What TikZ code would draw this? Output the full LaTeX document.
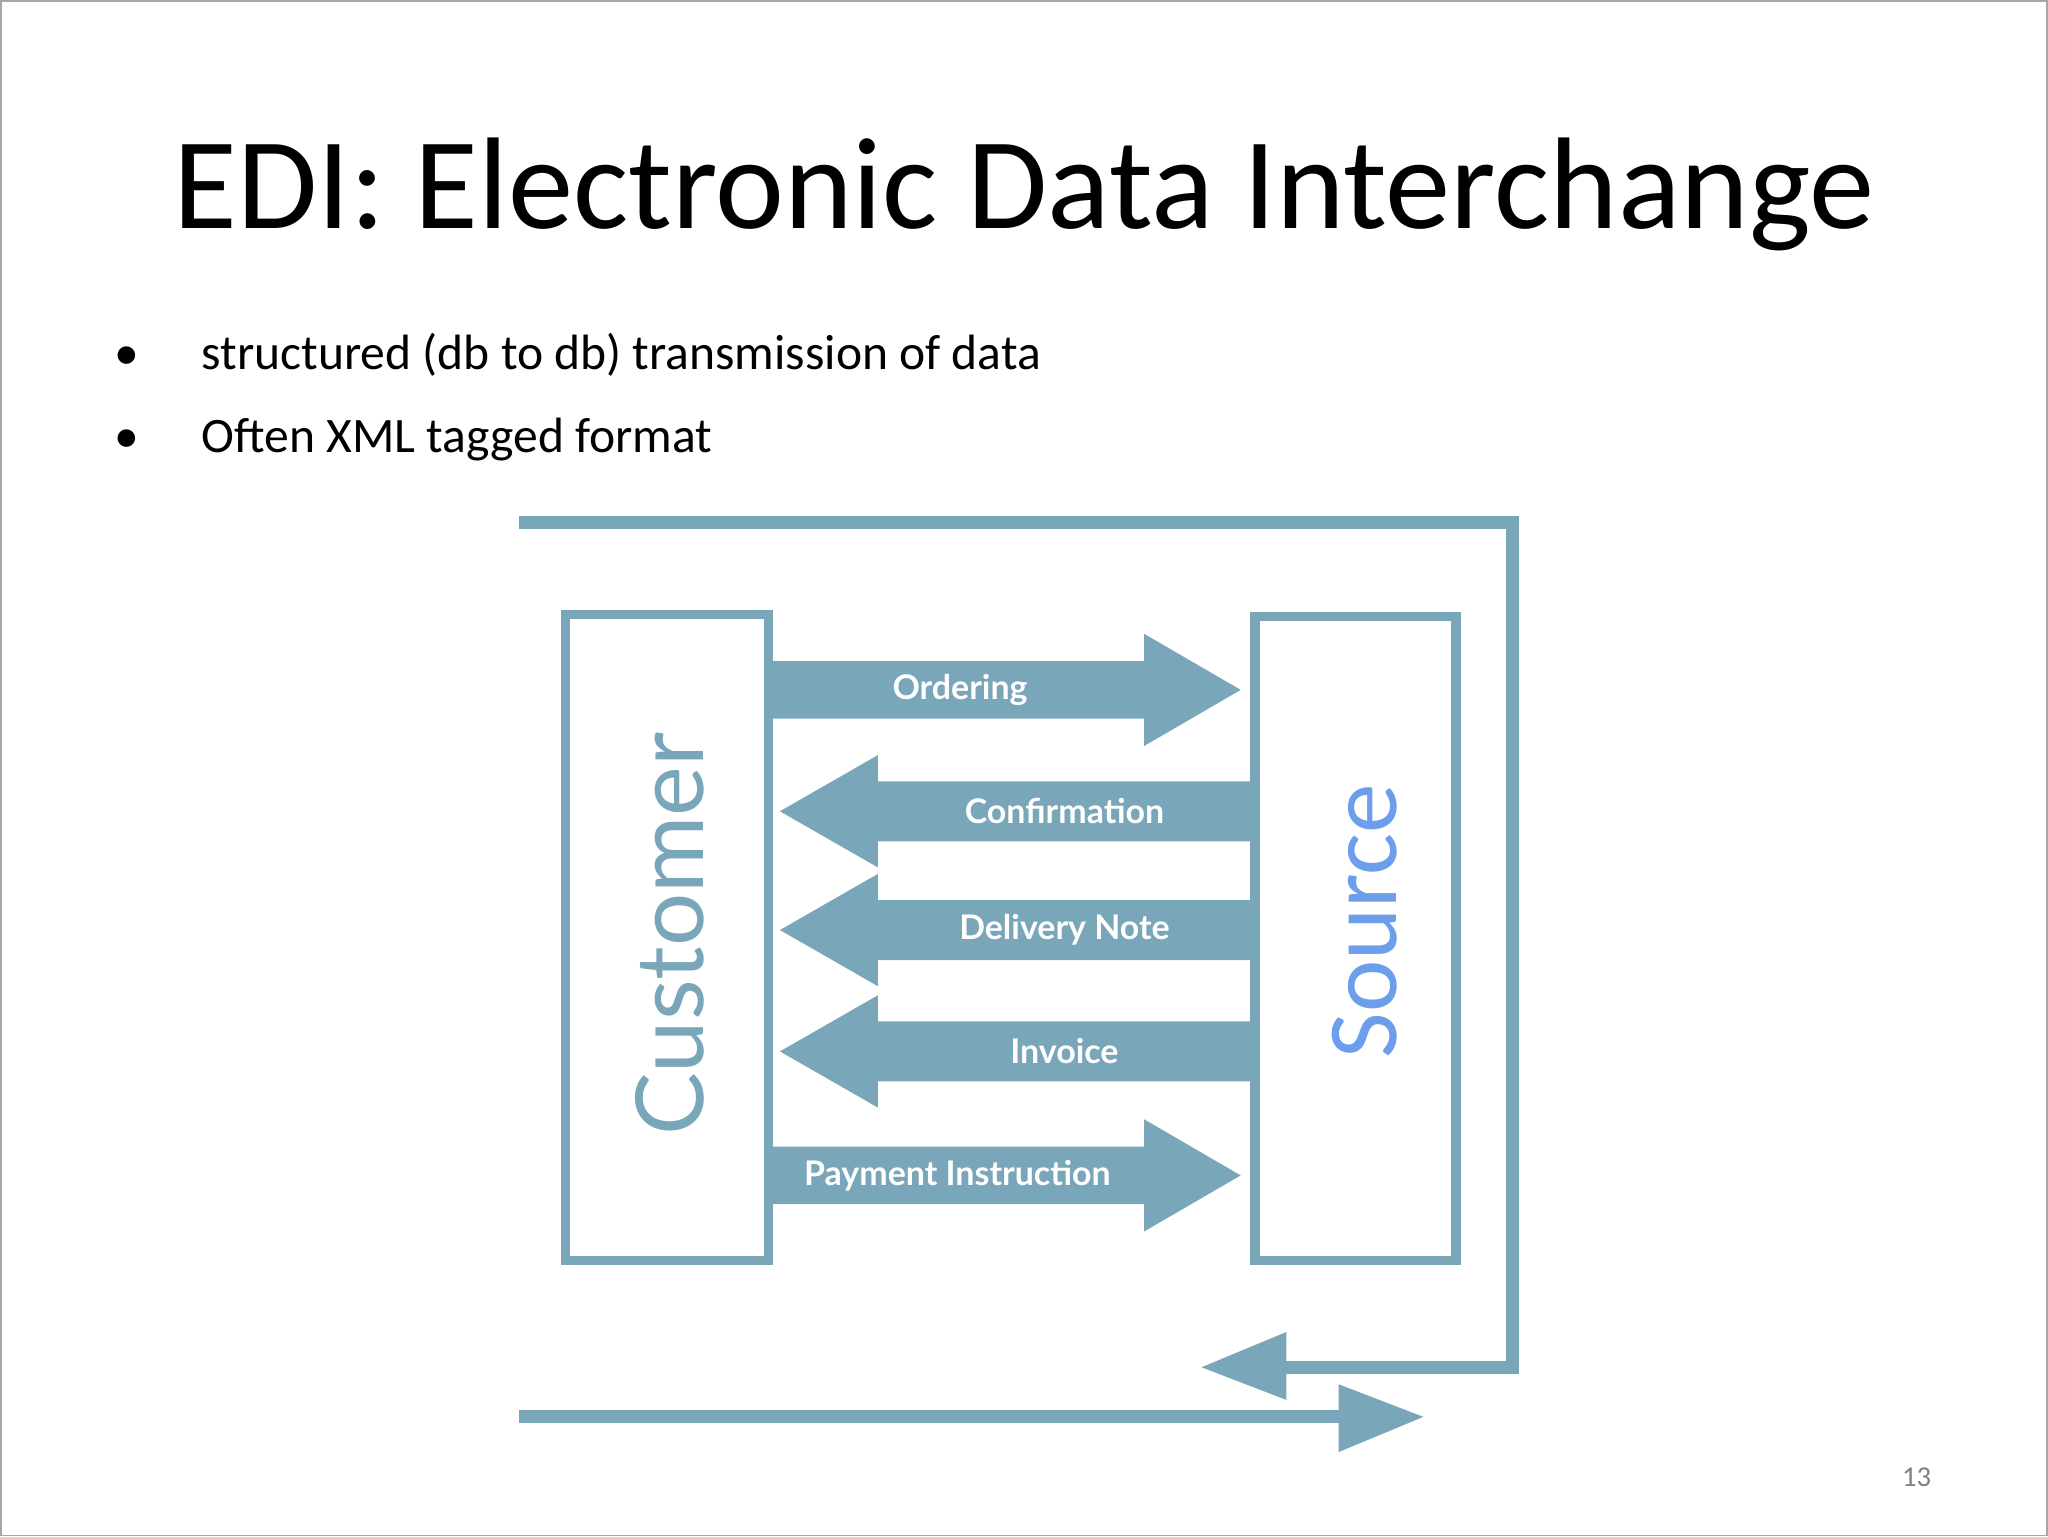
\documentclass[tikz,border=0pt]{standalone}
\usepackage{fontspec}
\setmainfont{Carlito}
\newfontfamily\lato{Lato}
\definecolor{edi}{HTML}{7AA6B9}
\definecolor{src}{HTML}{6D9EEB}
\tikzset{lbl/.style={text=white,font=\lato\bfseries\fontsize{13}{15}\selectfont},
 boxline/.style={draw=edi,line width=3.5pt},
 loop/.style={draw=edi,line width=5pt}}
\begin{document}
\begin{tikzpicture}[x=0.5pt,y=-0.5pt]
\draw[gray!70,line width=0.6pt,fill=white] (0,0) rectangle (1568,1176);
\node (title) at (784,148) {\fontsize{50}{56}\selectfont EDI: Electronic Data Interchange};
\node[anchor=west] (b1) at (80,271) {\fontsize{19}{22}\selectfont \textbullet\hspace{24pt}structured (db to db) transmission of data};
\node[anchor=west] (b2) at (80,336) {\fontsize{19}{22}\selectfont \textbullet\hspace{24pt}Often XML tagged format};
% outer loop
\draw[loop] (397,400) -- (1158,400) -- (1158,1047) -- (980,1047);
\fill[edi] (985,1020) -- (920,1047) -- (985,1072) -- cycle;
\draw[loop] (397,1085) -- (1030,1085);
\fill[edi] (1025,1060) -- (1090,1085) -- (1025,1112) -- cycle;
% boxes
\draw[boxline] (433,470) rectangle (588,965);
\draw[boxline] (961,472) rectangle (1115,965);
\node[rotate=90,text=edi,font=\lato\fontsize{36}{40}\selectfont] (cust) at (513,715) {Customer};
\node[rotate=90,text=src,font=\fontsize{38}{42}\selectfont] (srcn) at (1045,705) {Source};
% right arrows
\foreach \c in {528,900}{
 \fill[edi] (588,\c-22) -- (876,\c-22) -- (876,\c-43) -- (950,\c) -- (876,\c+43) -- (876,\c+22) -- (588,\c+22) -- cycle;}
% left arrows
\foreach \c in {621,712,805}{
 \fill[edi] (961,\c-23) -- (672,\c-23) -- (672,\c-43) -- (597,\c) -- (672,\c+43) -- (672,\c+23) -- (961,\c+23) -- cycle;}
\node[lbl] (ord) at (735,528) {Ordering};
\node[lbl] (conf) at (815,621) {Confirmation};
\node[lbl] (del) at (815,712) {Delivery Note};
\node[lbl] (inv) at (815,805) {Invoice};
\node[lbl] (pay) at (733,900) {Payment Instruction};
\node[text=gray,font=\fontsize{11}{13}\selectfont] (pg) at (1468,1131) {13};
\end{tikzpicture}
\end{document}
